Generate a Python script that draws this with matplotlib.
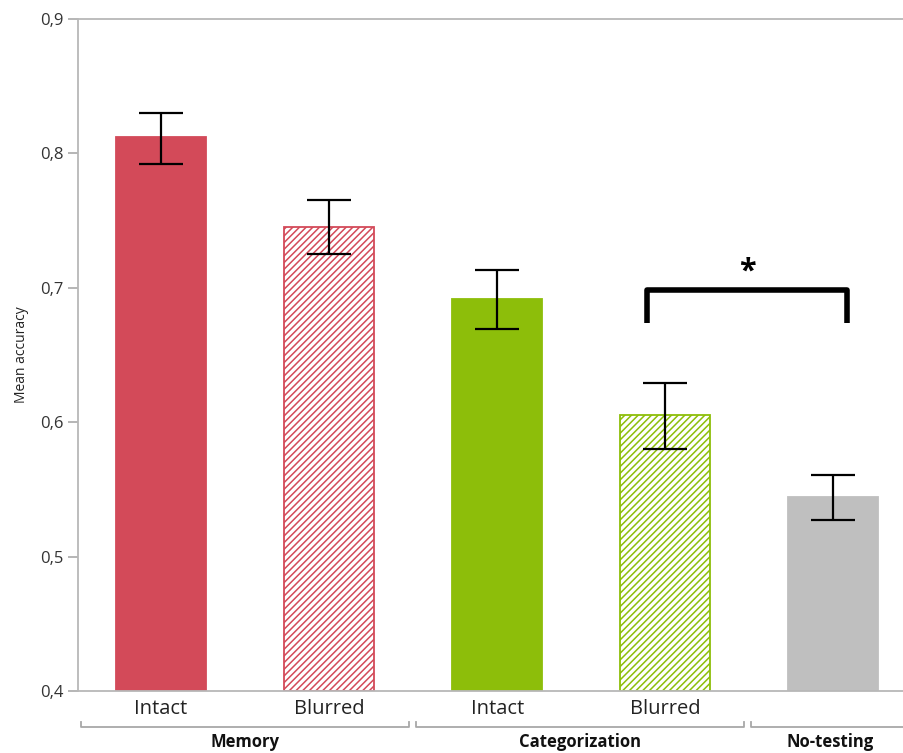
import matplotlib.pyplot as plt
import matplotlib.transforms as mtransforms

plt.rcParams['font.family'] = ['Open Sans', 'DejaVu Sans']
plt.rcParams['hatch.linewidth'] = 1.1

conditions = ['Intact', 'Blurred', 'Intact', 'Blurred', '']
means = [0.812, 0.745, 0.692, 0.605, 0.544]
err_low = [0.792, 0.725, 0.669, 0.580, 0.527]
err_high = [0.830, 0.765, 0.713, 0.629, 0.561]
groups = ['Memory', 'Categorization', 'No-testing']

red = '#D34A59'
green = '#8DBE0A'
gray = '#BFBFBF'
faces = [red, 'white', green, 'white', gray]
edges = [red, red, green, green, gray]
hatches = [None, '/////', None, '/////', None]

fig = plt.figure(figsize=(9.04, 7.53), dpi=100)
ax = fig.add_axes([0.0863, 0.0823, 0.9137, 0.8925])

x = list(range(len(means)))
for i in x:
    ax.bar(i, means[i] - 0.4, bottom=0.4, width=0.535, color=faces[i],
           edgecolor=edges[i], hatch=hatches[i], linewidth=1.3, zorder=2)

yerr = [[m - l for m, l in zip(means, err_low)],
        [h - m for m, h in zip(means, err_high)]]
ax.errorbar(x, means, yerr=yerr, fmt='none', ecolor='black',
            elinewidth=1.6, capsize=16, capthick=1.6, zorder=3)

ax.set_xlim(-0.494, 4.42)
ax.set_ylim(0.4, 0.9)
ax.set_yticks([0.4, 0.5, 0.6, 0.7, 0.8, 0.9])
ax.set_yticklabels(['0,4', '0,5', '0,6', '0,7', '0,8', '0,9'],
                   fontsize=12, color='#333333')
ax.set_xticks(x)
ax.set_xticklabels(conditions, fontsize=14.5, color='#222222')
ax.tick_params(axis='x', length=0, pad=6)
ax.tick_params(axis='y', length=7, width=1.3, color='#B0B0B0')
ax.set_ylabel('Mean accuracy', fontsize=10, color='#222222', labelpad=8)

for side in ['left', 'top', 'bottom']:
    ax.spines[side].set_color('#B8B8B8')
    ax.spines[side].set_linewidth(1.3)
ax.spines['right'].set_visible(False)

# group brackets under the condition labels
trans = mtransforms.blended_transform_factory(ax.transData, ax.transAxes)
spans = [(-0.476, 1.476), (1.518, 3.47), (3.512, 4.6)]
label_x = [0.5, 2.494, 3.98]
for (x0, x1), lx, name in zip(spans, label_x, groups):
    ax.plot([x0, x0, x1, x1], [-0.046, -0.054, -0.054, -0.046],
            color='#A8A8A8', linewidth=1.3, transform=trans, clip_on=False)
    ax.text(lx, -0.076, name, transform=trans, ha='center', va='center',
            fontsize=12, fontweight='bold', color='#111111')

# significance bracket between blurred categorization and no-testing
ax.plot([2.893, 2.893, 4.083, 4.083], [0.674, 0.698, 0.698, 0.674],
        color='black', linewidth=4, solid_joinstyle='round',
        solid_capstyle='butt', zorder=4)
ax.text(3.488, 0.712, '*', ha='center', va='center', fontsize=22,
        fontweight='bold', color='black')

fig.savefig('out.png', dpi=100)
